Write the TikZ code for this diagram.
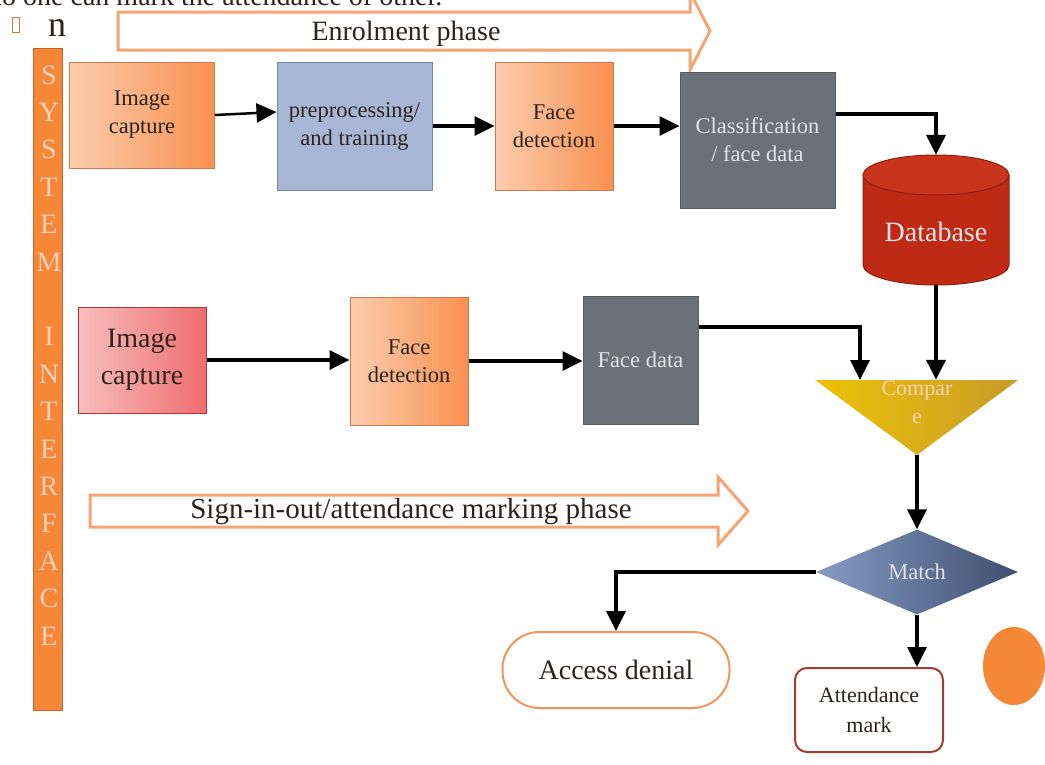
\documentclass[tikz,border=0pt]{standalone}
\usepackage{fontspec}
\setmainfont{Liberation Serif}
\usetikzlibrary{arrows.meta,shapes.geometric}

\definecolor{ink}{RGB}{45,35,30}
\definecolor{peachlo}{RGB}{252,205,175}
\definecolor{peachhi}{RGB}{247,145,80}
\definecolor{peachline}{RGB}{205,120,75}
\definecolor{lavender}{RGB}{168,182,214}
\definecolor{lavline}{RGB}{120,135,170}
\definecolor{slate}{RGB}{108,112,120}
\definecolor{slateline}{RGB}{88,92,98}
\definecolor{pale}{RGB}{225,228,232}
\definecolor{pinklo}{RGB}{248,190,190}
\definecolor{pinkhi}{RGB}{238,110,110}
\definecolor{pinkline}{RGB}{185,50,50}
\definecolor{dbred}{RGB}{190,42,20}
\definecolor{dbtop}{RGB}{200,52,28}
\definecolor{dbline}{RGB}{145,30,15}
\definecolor{goldhi}{RGB}{236,194,8}
\definecolor{goldlo}{RGB}{200,156,40}
\definecolor{matchlo}{RGB}{135,155,195}
\definecolor{matchhi}{RGB}{62,78,112}
\definecolor{barfill}{RGB}{245,135,55}
\definecolor{barline}{RGB}{200,100,40}
\definecolor{barletter}{RGB}{250,208,185}
\definecolor{phaseline}{RGB}{243,165,115}
\definecolor{accline}{RGB}{240,150,90}
\definecolor{attline}{RGB}{165,60,50}

\begin{document}
\begin{tikzpicture}[x=1pt,y=-1pt,
  every node/.style={inner sep=0pt, align=center, text=ink},
  link/.style={line width=3.5pt, -{Triangle[length=20pt,width=19pt]}},
  phase/.style={draw=phaseline, line width=3pt, fill=white},
  peach/.style={draw=peachline, line width=1pt, left color=peachlo, right color=peachhi},
  lav/.style={draw=lavline, line width=1pt, fill=lavender},
  slatebox/.style={draw=slateline, line width=1pt, fill=slate, text=pale},
  pinkbox/.style={draw=pinkline, line width=1pt, left color=pinklo, right color=pinkhi},
  txtA/.style={font=\fontsize{22.5}{28}\selectfont},
  txtB/.style={font=\fontsize{28}{37}\selectfont}]
\useasboundingbox (0,0) rectangle (1045,764);

% clipped line above the figure
\node[anchor=base west, font=\fontsize{28}{30}\selectfont] (cut) at (-12,5) {no one can mark the attendance of other.};
\node[draw=peachline, line width=0.8pt, minimum width=7pt, minimum height=15pt] (gap) at (16,25) {};
\node[anchor=base, font=\fontsize{36}{38}\selectfont] (nn) at (57,36) {n};

% system interface bar
\node[draw=barline, fill=barfill, line width=1pt, minimum width=29pt, minimum height=662pt] (sysbar) at (47.5,379) {};
\foreach \ch [count=\i] in {S,Y,S,T,E,M,{},I,N,T,E,R,F,A,C,E}
  \node[text=barletter, font=\fontsize{28}{30}\selectfont] (sys\i) at (49,75+37.4*\i-37.4) {\ch};

% phase arrows
\draw[phase] (118,12) -- (690,12) -- (690,-8) -- (710,31) -- (690,70) -- (690,50) -- (118,50) -- cycle;
\node[font=\fontsize{28}{30}\selectfont] (enrol) at (406,34) {Enrolment phase};
\draw[phase] (90,495) -- (718,495) -- (718,477) -- (748,511) -- (718,545) -- (718,527) -- (90,527) -- cycle;
\node[font=\fontsize{29}{31}\selectfont] (signin) at (411,512) {Sign-in-out/attendance marking phase};

% enrolment row
\node[peach, txtA, minimum width=145pt, minimum height=106pt] (capA) at (142,115) {Image\\capture};
\node[lav, txtA, minimum width=155pt, minimum height=128pt] (prep) at (354.5,126) {preprocessing/\\and training};
\node[peach, txtA, minimum width=118pt, minimum height=128pt] (detA) at (554,126) {Face\\detection};
\node[slatebox, txtA, minimum width=155pt, minimum height=136pt] (cls) at (757.5,140) {Classification\\/ face data};

% database
\node[minimum width=147pt, minimum height=130pt] (db) at (936,220) {};
\fill[dbred] (863,175) rectangle (1009,265);
\fill[dbred] (936,265) ellipse [x radius=73, y radius=20];
\draw[dbline, line width=1pt] (863,175) -- (863,265) arc[start angle=180, end angle=0, x radius=73, y radius=20] -- (1009,175);
\draw[dbline, line width=1pt, fill=dbtop] (936,175) ellipse [x radius=73, y radius=20];
\node[text=pale, font=\fontsize{28}{30}\selectfont] (dbtext) at (936,232) {Database};

% attendance row
\node[pinkbox, txtB, minimum width=128pt, minimum height=106pt] (capB) at (142,360) {Image\\capture};
\node[peach, txtA, minimum width=118pt, minimum height=128pt] (detB) at (409,361) {Face\\detection};
\node[slatebox, txtA, minimum width=115pt, minimum height=128pt] (fdat) at (640.5,360) {Face data};

% compare and match
\shade[left color=goldhi, right color=goldlo] (815,380) -- (1018,380) -- (917,455) -- cycle;
\node[minimum width=203pt, minimum height=75pt] (cmp) at (917,417.5) {};
\node[text=barletter, font=\fontsize{22}{28}\selectfont] (cmptxt) at (917,402) {Compar\\e};
\coordinate (cmpin) at (860,380);
\node[diamond, left color=matchlo, right color=matchhi, minimum width=202pt, minimum height=85pt,
  text=pale, font=\fontsize{22.5}{24}\selectfont] (match) at (917,572) {Match};

% outcomes
\node[draw=accline, line width=2pt, rounded corners=37pt, fill=white, minimum width=227pt, minimum height=76pt, txtB] (acc) at (616,670) {Access denial};
\node[draw=attline, line width=2pt, rounded corners=12pt, fill=white, minimum width=148pt, minimum height=84pt,
  font=\fontsize{22}{30}\selectfont] (att) at (869,710) {Attendance\\mark};
\node[ellipse, fill=barfill, minimum width=62pt, minimum height=78pt] (spot) at (1014,666) {};

% connectors
\draw[link, line width=2.5pt] (capA.east) -- ([yshift=14pt]prep.west);
\draw[link] (prep.east) -- (detA.west);
\draw[link] (detA.east) -- (detA.east -| cls.west);
\draw[link] ([yshift=26pt]cls.east) -| (db.north);
\draw[link] (db.south) -- (db.south |- cmp.north);
\draw[link] (capB.east) -- (capB.east -| detB.west);
\draw[link] (detB.east) -- (detB.east -| fdat.west);
\draw[link] ([yshift=33pt]fdat.east) -| (cmpin);
\draw[link] (cmp.south) -- (match.north);
\draw[link] (match.west) -| (acc.north);
\draw[link] (match.south) -- (match.south |- att.north);
\end{tikzpicture}
\end{document}
